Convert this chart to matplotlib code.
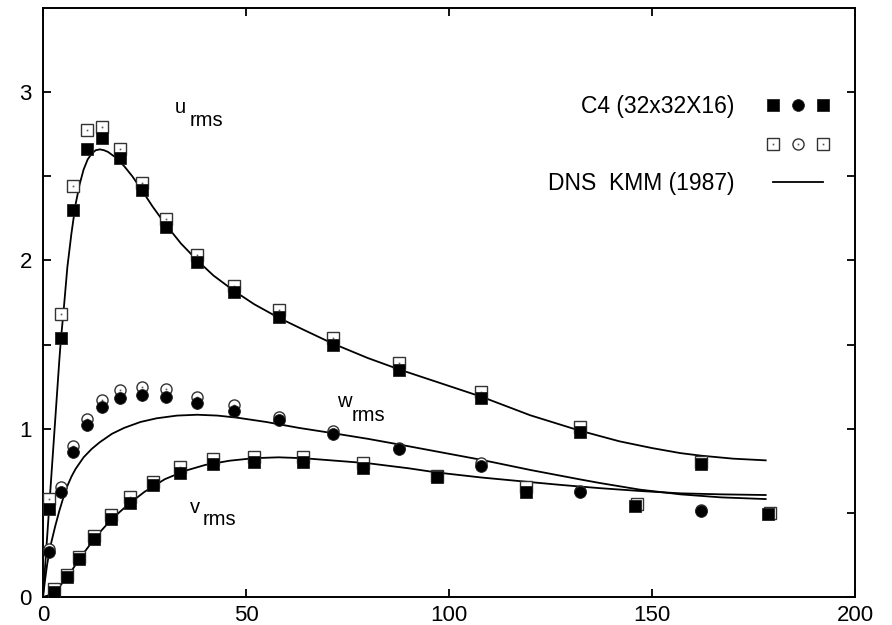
import numpy as np
import matplotlib.pyplot as plt
from matplotlib.lines import Line2D
from matplotlib.legend_handler import HandlerTuple

plt.rcParams['font.family'] = ['Liberation Sans', 'DejaVu Sans']

# C4 (32x32X16) data: u and w on cell centres, v on faces
x_uw = [1.4, 4.4, 7.4, 10.8, 14.6, 19.0, 24.3, 30.4, 38.0, 47.0, 58.1, 71.4, 87.8, 107.8, 132.2, 162.1]
u_fill = [0.52, 1.54, 2.30, 2.66, 2.73, 2.61, 2.42, 2.20, 1.99, 1.81, 1.665, 1.50, 1.35, 1.18, 0.98, 0.79]
u_open = [0.58, 1.68, 2.44, 2.775, 2.795, 2.66, 2.46, 2.245, 2.03, 1.85, 1.705, 1.54, 1.39, 1.22, 1.01, 0.80]
w_fill = [0.27, 0.625, 0.86, 1.02, 1.13, 1.18, 1.20, 1.19, 1.15, 1.105, 1.05, 0.968, 0.877, 0.778, 0.626, 0.513]
w_open = [0.285, 0.655, 0.90, 1.06, 1.17, 1.23, 1.245, 1.235, 1.19, 1.14, 1.07, 0.988, 0.885, 0.794, 0.632, 0.515]

x_v = [2.8, 5.8, 8.9, 12.6, 16.7, 21.4, 27.2, 33.8, 41.9, 52.0, 64.1, 78.9, 97.0, 119.0, 145.8, 178.6]
x_v_open = [2.8, 5.8, 8.9, 12.6, 16.7, 21.4, 27.2, 33.8, 41.9, 52.0, 64.1, 78.9, 97.0, 119.0, 146.4, 179.0]
v_fill = [0.032, 0.117, 0.224, 0.343, 0.462, 0.56, 0.665, 0.739, 0.79, 0.804, 0.804, 0.765, 0.711, 0.626, 0.543, 0.495]
v_open = [0.045, 0.13, 0.24, 0.364, 0.487, 0.592, 0.685, 0.77, 0.818, 0.834, 0.83, 0.794, 0.72, 0.655, 0.553, 0.497]

# DNS KMM (1987) profiles
x_u_dns = [0, 1, 2, 3, 4, 4.4, 5, 6, 7, 8, 9, 10, 11, 12, 13, 14, 15, 16, 18, 20, 22, 24, 27, 30, 34, 38,
           42, 47, 52, 58, 64, 71, 80, 88, 98, 108, 120, 132, 142, 150, 157, 162, 170, 178]
u_dns = [0, 0.35, 0.70, 1.05, 1.40, 1.53, 1.68, 1.96, 2.16, 2.33, 2.45, 2.54, 2.60, 2.635, 2.655, 2.66, 2.655,
         2.645, 2.61, 2.56, 2.50, 2.43, 2.32, 2.22, 2.10, 2.00, 1.91, 1.82, 1.74, 1.66, 1.59, 1.51, 1.42,
         1.35, 1.27, 1.19, 1.08, 0.99, 0.925, 0.885, 0.855, 0.84, 0.822, 0.812]

x_w_dns = [0, 0.5, 1, 1.5, 2, 3, 4, 5, 6, 7, 8, 10, 12, 14, 17, 20, 24, 28, 33, 38, 43, 48, 55, 63, 71,
           80, 88, 98, 108, 120, 132, 137, 147, 157, 167, 178]
w_dns = [0, 0.10, 0.19, 0.26, 0.32, 0.42, 0.51, 0.59, 0.66, 0.715, 0.76, 0.83, 0.88, 0.92, 0.97, 1.005,
         1.04, 1.062, 1.078, 1.083, 1.078, 1.065, 1.04, 1.005, 0.975, 0.94, 0.905, 0.86, 0.815, 0.755,
         0.70, 0.678, 0.638, 0.61, 0.592, 0.582]

x_v_dns = [0, 2, 3, 4, 5, 6, 7, 8, 9, 10, 12, 14, 17, 21, 25, 30, 35, 40, 46, 52, 58, 64, 72, 80, 90,
           97, 108, 119, 128, 137, 147, 157, 167, 178]
v_dns = [0, 0.015, 0.035, 0.06, 0.09, 0.122, 0.155, 0.19, 0.225, 0.26, 0.325, 0.385, 0.465, 0.55, 0.625,
         0.70, 0.75, 0.785, 0.81, 0.825, 0.83, 0.825, 0.81, 0.795, 0.765, 0.74, 0.71, 0.685, 0.665,
         0.647, 0.63, 0.616, 0.61, 0.606]

fig = plt.figure(figsize=(8.92, 6.25), dpi=100)
ax = fig.add_axes([43 / 892, 28 / 625, 812 / 892, 589 / 625])

open_kw = dict(ls='none', mfc='white', mec='#333333', mew=1.0, ms=8, zorder=3)
dot_kw = dict(ls='none', marker='s', color='#555555', ms=1.2, mew=0, zorder=3.5)
fill_kw = dict(ls='none', color='black', mec='#222222', mew=0.6, ms=8.5, zorder=4)

# open markers first, filled ones on top
ax.plot(x_uw, u_open, marker='s', **open_kw)
ax.plot(x_uw, u_open, **dot_kw)
ax.plot(x_uw, w_open, marker='o', **open_kw)
ax.plot(x_uw, w_open, **dot_kw)
ax.plot(x_v_open, v_open, marker='s', **open_kw)
ax.plot(x_v_open, v_open, **dot_kw)

ax.plot(x_uw, u_fill, marker='s', **fill_kw)
ax.plot(x_uw, w_fill, marker='o', **fill_kw)
ax.plot(x_v, v_fill, marker='s', **fill_kw)

for xs, ys in [(x_u_dns, u_dns), (x_w_dns, w_dns), (x_v_dns, v_dns)]:
    ax.plot(xs, ys, color='black', lw=1.3, zorder=2)

# curve labels
lab = dict(fontsize=14.5, va='baseline', ha='left')
ax.text(32.5, 2.878, 'u', **lab)
ax.text(36.0, 2.80, 'rms', **lab)
ax.text(72.3, 1.127, 'w', **lab)
ax.text(76.0, 1.048, 'rms', **lab)
ax.text(36.2, 0.497, 'v', **lab)
ax.text(39.2, 0.428, 'rms', **lab)

# legend in gnuplot style
h_fill = (Line2D([], [], marker='s', **fill_kw),
          Line2D([], [], marker='o', **fill_kw),
          Line2D([], [], marker='s', **fill_kw))
h_open = tuple((Line2D([], [], marker=m, **open_kw), Line2D([], [], **dot_kw)) for m in ['s', 'o', 's'])
h_line = Line2D([], [], color='black', lw=1.3)
ax.legend([h_fill, h_open, h_line], ['C4 (32x32X16)', ' ', 'DNS  KMM (1987)'],
          handler_map={h_fill: HandlerTuple(ndivide=None, pad=1.09),
                       h_open: HandlerTuple(ndivide=None, pad=1.09)},
          loc='upper right', bbox_to_anchor=(0.9606, 0.852), frameon=False, markerfirst=False,
          numpoints=1, handlelength=2.18, handletextpad=1.7, labelspacing=0.68,
          borderpad=0, borderaxespad=0, fontsize=16.5)

ax.set_xlim(0, 200)
ax.set_ylim(0, 3.5)
ax.set_xticks([0, 50, 100, 150, 200])
yt = np.arange(0, 3.5, 0.5)
ax.set_yticks(yt)
ax.set_yticklabels(['%d' % t if t == int(t) else '' for t in yt])
ax.tick_params(direction='in', length=6, width=1.3, top=True, right=True, labelsize=16)
ax.tick_params(axis='y', pad=8)
ax.tick_params(axis='x', pad=6)
for s in ax.spines.values():
    s.set_linewidth(1.4)

fig.savefig('out.png', dpi=100)
